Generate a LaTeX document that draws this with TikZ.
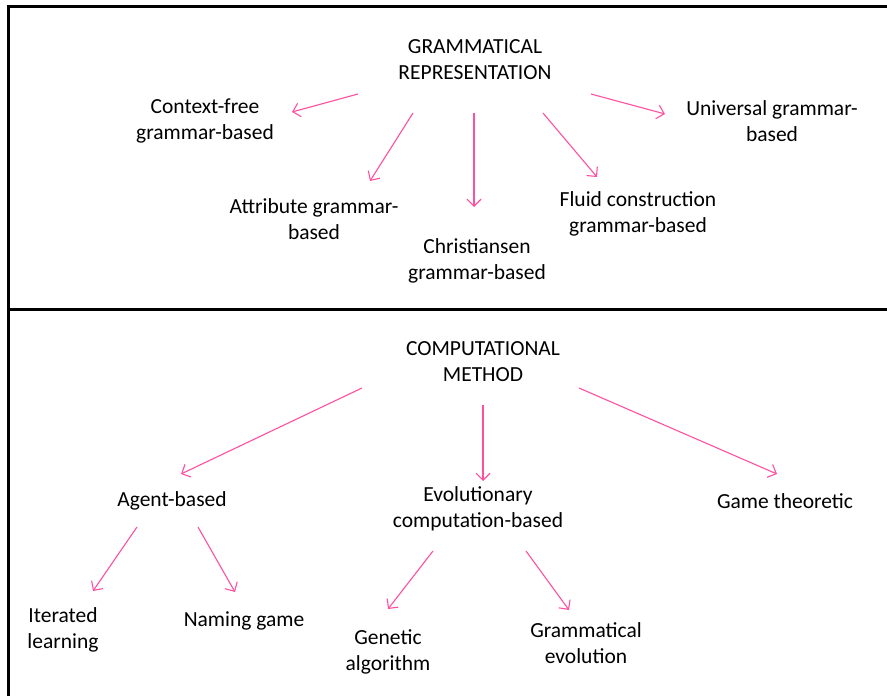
\documentclass[tikz,border=0pt]{standalone}
\usepackage{fontspec}
\setmainfont{Carlito}
\usetikzlibrary{arrows.meta}
\definecolor{pinkarrow}{RGB}{255,80,160}
\begin{document}
\begin{tikzpicture}[x=1pt,y=-1pt,
  lbl/.style={align=center,font=\fontsize{21.5}{26}\selectfont,inner sep=0pt,yshift=-2pt},
  arr/.style={draw=pinkarrow,line width=1.1pt,-{Straight Barb[length=7pt,width=14pt,line width=1.1pt]}},
  frame/.style={line width=3pt,black}]
\useasboundingbox (0,0) rectangle (887,696);
% frame
\draw[frame] (8,696) -- (8,6) -- (887,6);
\draw[frame] (8,309) -- (887,309);
% top panel
\node[lbl] (gr) at (475,58) {GRAMMATICAL\\REPRESENTATION};
\node[lbl] (cf) at (205,119) {Context-free\\grammar-based};
\node[lbl] (ug) at (772,119) {Universal grammar-\\based};
\node[lbl] (ag) at (314,217) {Attribute grammar-\\based};
\node[lbl] (cg) at (477,259) {Christiansen\\grammar-based};
\node[lbl] (fc) at (638,212) {Fluid construction\\grammar-based};
\coordinate (cfs) at (358,94);  \coordinate (cfe) at (292,112);
\coordinate (ags) at (413,113); \coordinate (age) at (370,181);
\coordinate (cgs) at (474,113); \coordinate (cge) at (474,207);
\coordinate (fcs) at (543,113); \coordinate (fce) at (597,177);
\coordinate (ugs) at (591,94);  \coordinate (uge) at (665,114);
\draw[arr] (cfs) -- (cfe);
\draw[arr] (ags) -- (age);
\draw[arr] (cgs) -- (cge);
\draw[arr] (fcs) -- (fce);
\draw[arr] (ugs) -- (uge);
% bottom panel
\node[lbl] (cm) at (483,360) {COMPUTATIONAL\\METHOD};
\node[lbl] (ab) at (172,499) {Agent-based};
\node[lbl] (ec) at (478,507) {Evolutionary\\computation-based};
\node[lbl] (gt) at (785,499) {Game theoretic};
\node[lbl] (il) at (63,628) {Iterated\\learning};
\node[lbl] (ng) at (244,619) {Naming game};
\node[lbl] (ga) at (388,650) {Genetic\\algorithm};
\node[lbl] (ge) at (586,641) {Grammatical\\evolution};
\coordinate (abs) at (362,388); \coordinate (abe) at (181,474);
\coordinate (ecs) at (483,405); \coordinate (ece) at (483,481);
\coordinate (gts) at (579,388); \coordinate (gte) at (777,474);
\coordinate (ils) at (137,527); \coordinate (ile) at (93,591);
\coordinate (ngs) at (198,527); \coordinate (nge) at (235,592);
\coordinate (gas) at (433,551); \coordinate (gae) at (388,609);
\coordinate (ges) at (526,551); \coordinate (gee) at (569,610);
\draw[arr] (abs) -- (abe);
\draw[arr] (ecs) -- (ece);
\draw[arr] (gts) -- (gte);
\draw[arr] (ils) -- (ile);
\draw[arr] (ngs) -- (nge);
\draw[arr] (gas) -- (gae);
\draw[arr] (ges) -- (gee);
\end{tikzpicture}
\end{document}
